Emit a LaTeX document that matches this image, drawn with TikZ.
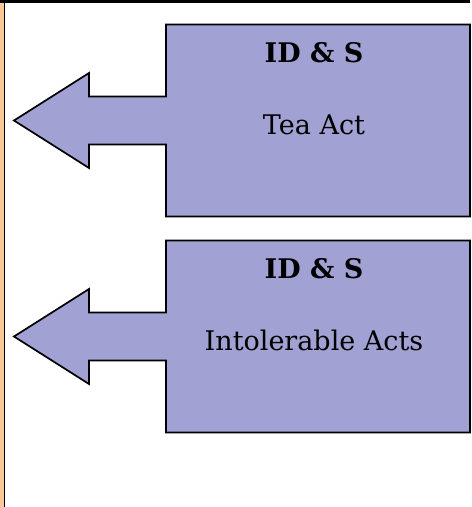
\documentclass[tikz,border=0pt]{standalone}
\usepackage{fontspec}
\setmainfont{DejaVu Serif}
\usetikzlibrary{positioning}
\definecolor{calloutfill}{RGB}{161,161,212}
\definecolor{margin}{RGB}{251,200,150}

\begin{document}
\begin{tikzpicture}[x=1pt, y=-1pt,
  callout/.style={draw=black, line width=1.7pt, fill=calloutfill, line join=miter},
  title/.style={font=\fontsize{27}{32}\selectfont\bfseries, inner sep=0pt},
  body/.style={font=\fontsize{27}{32}\selectfont, inner sep=0pt}]
\useasboundingbox (0,0) rectangle (472,507);
% page edges
\fill [margin] (0,0) rectangle (3.5,507);
\draw [line width=1.6pt] (4.5,0) -- (4.5,507);
\draw [line width=2.6pt] (0,1.3) -- (470,1.3);
% callouts
\foreach \c/\name/\txt in {120.5/tea/Tea Act, 336.5/intol/Intolerable Acts} {
  \draw [callout] (14,\c) -- (89,\c-47.5) -- (89,\c-24) -- (166,\c-24) -- (166,\c-96)
    -- (470,\c-96) -- (470,\c+96) -- (166,\c+96) -- (166,\c+24) -- (89,\c+24)
    -- (89,\c+47.5) -- cycle;
  \node [title] (\name-title) at (314,\c-67.5) {ID \& S};
  \node [body] (\name-body) at (314,\c+4) {\txt};
}
\end{tikzpicture}
\end{document}
